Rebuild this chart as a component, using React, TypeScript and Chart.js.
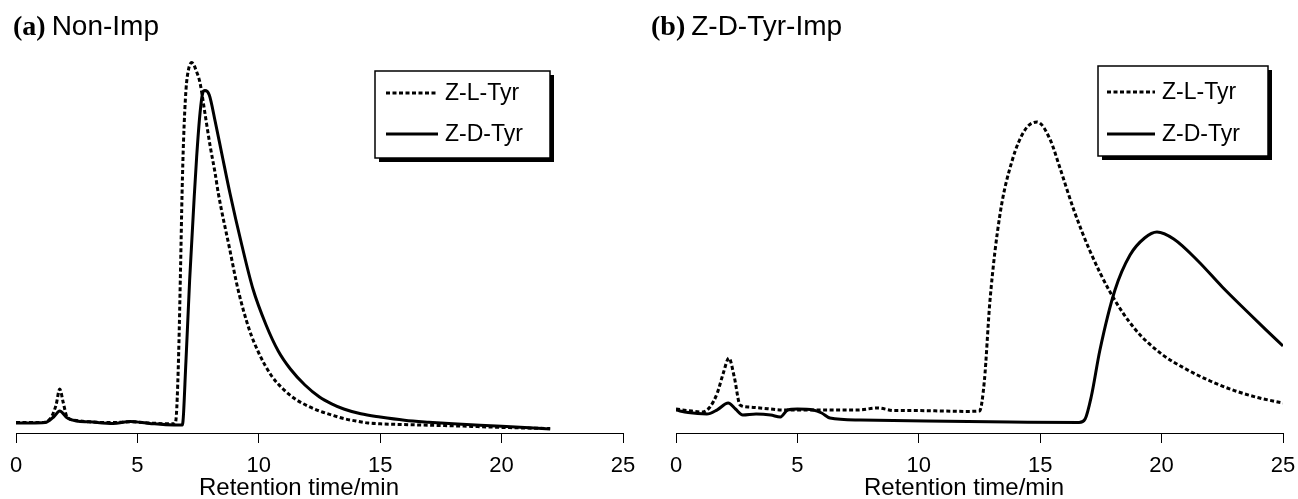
import React, { useEffect, useRef } from 'react';
import { Chart, registerables } from 'chart.js';

Chart.register(...registerables);

// ---------- data ----------
const xTicks = [0, 5, 10, 15, 20, 25];
const seriesNames = ['Z-L-Tyr', 'Z-D-Tyr'];
const xAxisTitle = 'Retention time/min';

// (a) Non-Imp : Z-L-Tyr (dotted)
const nonImpLTime = [0, 0.5, 1.0, 1.4, 1.65, 1.8, 1.95, 2.1, 2.4, 3.0, 4.0, 4.7, 5.5, 6.3, 6.55, 6.62, 6.7, 6.78, 6.84, 6.9, 7.0, 7.1, 7.24, 7.44, 7.58, 7.78, 8.0, 8.2, 8.33, 8.8, 9.14, 9.6, 10.0, 10.5, 11.0, 11.5, 12.0, 12.5, 13.0, 13.5, 14.0, 14.5, 15.0, 16.0, 18.0, 20.0, 22.0];
const nonImpLSignal = [2.6, 2.6, 2.6, 3.5, 7.0, 11.0, 7.5, 4.0, 3.2, 2.8, 2.6, 2.8, 2.5, 2.3, 2.3, 6.0, 20.0, 42.0, 60.0, 73.0, 85.7, 90.7, 92.6, 90.3, 87.5, 80.0, 71.6, 65.0, 60.0, 46.0, 36.0, 26.0, 20.0, 14.5, 11.0, 8.5, 6.8, 5.5, 4.5, 3.6, 3.0, 2.5, 2.3, 2.1, 1.8, 1.4, 1.1];

// (a) Non-Imp : Z-D-Tyr (solid)
const nonImpDTime = [0, 0.6, 1.2, 1.55, 1.8, 2.1, 2.5, 3.0, 4.0, 4.7, 5.5, 6.5, 6.85, 7.0, 7.15, 7.34, 7.44, 7.58, 7.69, 7.78, 7.96, 8.2, 8.47, 8.81, 9.3, 9.76, 10.3, 10.8, 11.3, 11.9, 12.5, 13.0, 13.5, 14.2, 15.0, 16.0, 17.0, 18.0, 20.0, 22.0];
const nonImpDSignal = [2.5, 2.5, 2.6, 4.0, 5.5, 3.8, 3.0, 2.8, 2.4, 2.9, 2.4, 2.0, 2.0, 18.0, 38.0, 59.0, 69.0, 80.0, 85.0, 85.6, 84.5, 78.0, 70.0, 60.0, 47.0, 36.0, 27.0, 20.5, 16.0, 12.0, 9.0, 7.3, 6.0, 4.8, 4.0, 3.2, 2.7, 2.3, 1.7, 1.0];

// (b) Z-D-Tyr-Imp : Z-L-Tyr (dotted)
const impLTime = [0, 0.5, 1.1, 1.4, 1.7, 1.95, 2.18, 2.4, 2.64, 3.0, 3.46, 4.5, 5.5, 6.2, 7.5, 8.3, 9.0, 10.0, 11.0, 12.0, 12.5, 12.7, 12.93, 13.34, 13.84, 14.37, 14.87, 15.4, 15.8, 16.4, 17.05, 17.9, 18.9, 20.0, 21.0, 22.0, 23.0, 24.0, 25.0];
const impLSignal = [6.0, 5.6, 5.25, 6.5, 10.0, 15.0, 18.75, 14.0, 7.0, 6.5, 6.25, 5.75, 5.75, 5.75, 5.75, 6.25, 5.6, 5.6, 5.5, 5.4, 5.5, 13.0, 33.0, 54.5, 68.0, 75.75, 77.75, 73.5, 66.5, 55.5, 45.5, 35.0, 26.0, 19.75, 16.0, 13.0, 10.6, 8.8, 7.5];

// (b) Z-D-Tyr-Imp : Z-D-Tyr (solid)
const impDTime = [0, 0.5, 1.27, 1.7, 2.15, 2.45, 2.75, 3.3, 3.9, 4.3, 4.6, 5.0, 5.65, 6.0, 6.34, 7.6, 10.3, 13.75, 16.6, 16.85, 17.1, 17.46, 18.08, 18.7, 19.3, 19.81, 20.5, 21.5, 22.5, 23.5, 24.3, 25.0];
const impDSignal = [5.75, 5.1, 4.75, 5.8, 7.5, 6.0, 4.5, 4.75, 4.5, 4.0, 5.75, 6.0, 5.75, 5.0, 3.75, 3.25, 3.0, 2.75, 2.6, 3.5, 9.0, 20.75, 35.75, 44.5, 48.75, 50.25, 48.5, 43.0, 36.5, 30.5, 25.8, 21.75];

// ---------- helpers ----------
const SANS = '"Liberation Sans", Arial, Helvetica, sans-serif';
const SERIF = '"Liberation Serif", "Times New Roman", serif';
const DOT_DASH = [4, 2.5];

function toPoints(t: number[], v: number[]) {
  return t.map((x, i) => ({ x, y: v[i] }));
}

type PanelProps = {
  tag: string;
  name: string;
  lTime: number[];
  lSignal: number[];
  dTime: number[];
  dSignal: number[];
  padLeft: number;
  padRight: number;
  titleX: number;
  axisTitleX: number;
  legend: { x: number; y: number; w: number; h: number; lineX1: number; lineX2: number; textX: number; row1: number; row2: number };
};

function Panel(p: PanelProps) {
  const ref = useRef<HTMLCanvasElement | null>(null);
  useEffect(() => {
    if (!ref.current) return;
    const overlay = {
      id: 'overlay',
      afterDraw(chart: any) {
        const ctx = chart.ctx as CanvasRenderingContext2D;
        ctx.save();
        // panel title
        ctx.fillStyle = '#000';
        ctx.textBaseline = 'alphabetic';
        ctx.textAlign = 'left';
        ctx.font = `bold 28px ${SERIF}`;
        ctx.fillText(p.tag, p.titleX, 35);
        const w = ctx.measureText(p.tag).width;
        ctx.font = `28px ${SANS}`;
        ctx.fillText(p.name, p.titleX + w + 6, 35);
        // x axis title
        ctx.font = `24px ${SANS}`;
        ctx.textAlign = 'center';
        ctx.textBaseline = 'middle';
        ctx.fillText(xAxisTitle, p.axisTitleX, 488);
        ctx.textAlign = 'left';
        // legend box
        const L = p.legend;
        ctx.fillStyle = '#000';
        ctx.fillRect(L.x + 4, L.y + 4, L.w, L.h);
        ctx.fillStyle = '#fff';
        ctx.fillRect(L.x, L.y, L.w, L.h);
        ctx.strokeStyle = '#000';
        ctx.lineWidth = 1.5;
        ctx.strokeRect(L.x, L.y, L.w, L.h);
        const ds = chart.data.datasets;
        const rows = [L.row1, L.row2];
        ds.forEach((d: any, i: number) => {
          ctx.beginPath();
          ctx.setLineDash(d.borderDash || []);
          ctx.lineWidth = 3;
          ctx.strokeStyle = '#000';
          ctx.moveTo(L.lineX1, rows[i]);
          ctx.lineTo(L.lineX2, rows[i]);
          ctx.stroke();
          ctx.setLineDash([]);
          ctx.fillStyle = '#000';
          ctx.font = `23px ${SANS}`;
          ctx.textBaseline = 'middle';
          ctx.fillText(d.label, L.textX, rows[i] + 1);
        });
        ctx.restore();
      },
    };
    const chart = new Chart(ref.current, {
      type: 'line',
      data: {
        datasets: [
          {
            label: seriesNames[0],
            data: toPoints(p.lTime, p.lSignal),
            borderColor: '#000',
            borderWidth: 3,
            borderDash: DOT_DASH,
            pointRadius: 0,
            cubicInterpolationMode: 'monotone',
            fill: false,
          },
          {
            label: seriesNames[1],
            data: toPoints(p.dTime, p.dSignal),
            borderColor: '#000',
            borderWidth: 3,
            pointRadius: 0,
            cubicInterpolationMode: 'monotone',
            fill: false,
          },
        ],
      },
      options: {
        responsive: false,
        maintainAspectRatio: false,
        animation: false,
        events: [],
        layout: { padding: { left: p.padLeft, right: p.padRight, top: 33, bottom: 0 } },
        plugins: {
          legend: { display: false },
          tooltip: { enabled: false },
          title: { display: false },
        },
        scales: {
          x: {
            type: 'linear',
            min: 0,
            max: 25,
            afterBuildTicks: (s: any) => {
              s.ticks = xTicks.map((v) => ({ value: v }));
            },
            afterFit: (s: any) => {
              s.height = 66;
              s.paddingLeft = 0;
              s.paddingRight = 0;
            },
            ticks: {
              color: '#000',
              font: { family: SANS, size: 22 },
              padding: 10,
              maxRotation: 0,
              autoSkip: false,
            },
            grid: {
              display: true,
              drawOnChartArea: false,
              drawTicks: true,
              tickLength: 10,
              color: '#000',
              lineWidth: 1,
            },
            border: { display: true, color: '#000', width: 1 },
            title: { display: false },
          },
          y: { display: false, min: 0, max: 100 },
        },
      } as any,
      plugins: [overlay],
    });
    return () => chart.destroy();
  }, []);
  return <canvas ref={ref} width={649} height={499} style={{ display: 'block', width: 649, height: 499 }} />;
}

export default function App() {
  return (
    <div style={{ position: 'absolute', left: 0, top: 0, width: 1298, height: 499, background: '#fff', display: 'flex' }}>
      <Panel
        tag="(a)"
        name="Non-Imp"
        lTime={nonImpLTime}
        lSignal={nonImpLSignal}
        dTime={nonImpDTime}
        dSignal={nonImpDSignal}
        padLeft={16}
        padRight={26}
        titleX={13}
        axisTitleX={299}
        legend={{ x: 375, y: 71, w: 175, h: 87, lineX1: 386, lineX2: 438, textX: 445, row1: 93, row2: 134 }}
      />
      <Panel
        tag="(b)"
        name="Z-D-Tyr-Imp"
        lTime={impLTime}
        lSignal={impLSignal}
        dTime={impDTime}
        dSignal={impDSignal}
        padLeft={27}
        padRight={15}
        titleX={2}
        axisTitleX={315}
        legend={{ x: 449, y: 66, w: 170, h: 90, lineX1: 458, lineX2: 506, textX: 513, row1: 92, row2: 134 }}
      />
    </div>
  );
}
